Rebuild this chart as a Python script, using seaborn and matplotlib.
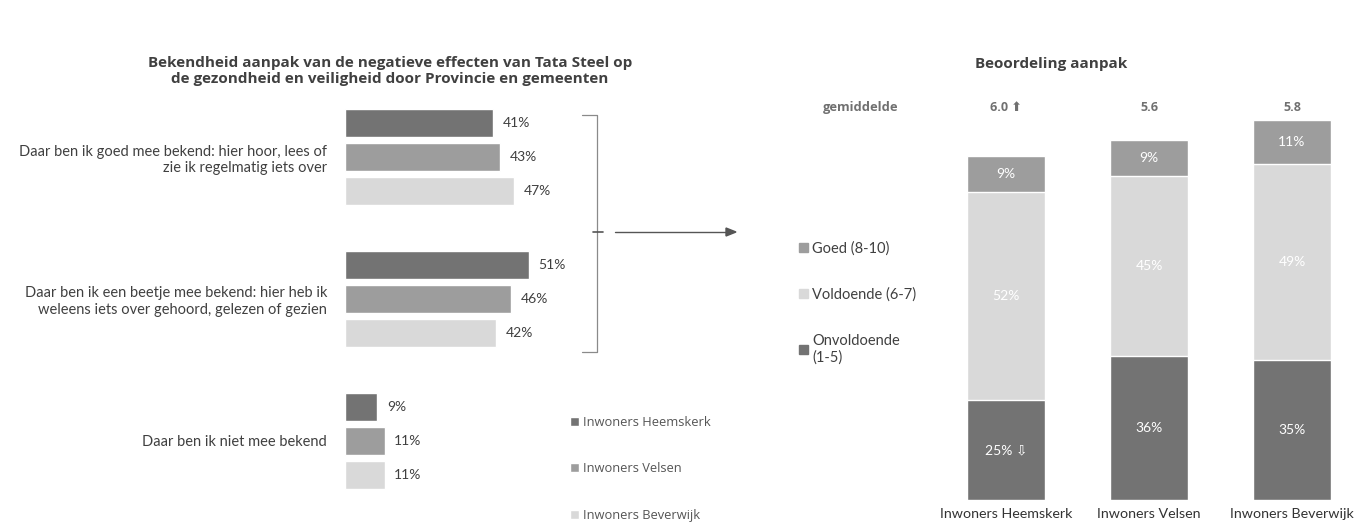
import pandas as pd
import matplotlib
matplotlib.use("Agg")
import matplotlib.pyplot as plt
import seaborn as sns
import numpy as np
from matplotlib.patches import Patch

# --- data -------------------------------------------------------------
categories = [
    "Daar ben ik goed mee bekend: hier hoor, lees of\nzie ik regelmatig iets over",
    "Daar ben ik een beetje mee bekend: hier heb ik\nweleens iets over gehoord, gelezen of gezien",
    "Daar ben ik niet mee bekend",
]
gemeenten = ["Inwoners Heemskerk", "Inwoners Velsen", "Inwoners Beverwijk"]
heemskerk = [41, 51, 9]
velsen = [43, 46, 11]
beverwijk = [47, 42, 11]

oordeel_labels = ["Goed (8-10)", "Voldoende (6-7)", "Onvoldoende\n(1-5)"]
onvoldoende = [25, 36, 35]
voldoende = [52, 45, 49]
goed = [9, 9, 11]
gemiddelde = ["6.0 \u2b06", "5.6", "5.8"]
onv_suffix = [" \u21e9", "", ""]

dark, mid, light = "#737373", "#9d9d9d", "#d9d9d9"
text_col = "#404040"
title_font = ["Open Sans", "DejaVu Sans"]

sns.set_theme(style="white")
plt.rcParams["font.family"] = ["Lato", "DejaVu Sans"]

fig = plt.figure(figsize=(13.7, 5.28), dpi=100)

# --- left: bekendheid ---------------------------------------------------
left_df = pd.DataFrame({
    "categorie": categories * 3,
    "gemeente": [g for g in gemeenten for _ in categories],
    "pct": heemskerk + velsen + beverwijk,
})
ax1 = fig.add_axes([345 / 1370, 1 - 512 / 528, 270 / 1370, 426 / 528])
sns.barplot(data=left_df, y="categorie", x="pct", hue="gemeente", orient="h",
            palette=[dark, mid, light], saturation=1, width=0.72, gap=0.18,
            ax=ax1)
for cont in ax1.containers:
    ax1.bar_label(cont, fmt="%d%%", padding=7, fontsize=10, color=text_col)
ax1.set_xlim(0, 75)
ax1.set_ylim(2.5, -0.5)
ax1.set_xlabel("")
ax1.set_ylabel("")
ax1.set_xticks([])
ax1.tick_params(axis="y", length=0, pad=13, labelsize=10.5, labelcolor=text_col)
sns.despine(ax=ax1, left=True, bottom=True)
sns.move_legend(ax1, loc="upper left", bbox_to_anchor=(558 / 1370, 1 - 404 / 528),
                bbox_transform=fig.transFigure, frameon=False, title=None,
                prop={"family": title_font, "size": 9.3}, labelspacing=2.6,
                handlelength=0.7, handleheight=0.7, handletextpad=0.3,
                labelcolor="#555555")

fig.text(390 / 1370, 1 - 71 / 528,
         "Bekendheid aanpak van de negatieve effecten van Tata Steel op\n"
         "de gezondheid en veiligheid door Provincie en gemeenten",
         ha="center", va="center", fontsize=11, fontweight="bold",
         family=title_font, color=text_col, linespacing=1.1)

# bracket + arrow
bx = [582 / 1370, 597 / 1370, 597 / 1370, 582 / 1370]
by = [1 - 115 / 528, 1 - 115 / 528, 1 - 352 / 528, 1 - 352 / 528]
fig.add_artist(plt.Line2D(bx, by, color="#8a8a8a", lw=0.9))
fig.add_artist(plt.Line2D([593 / 1370, 603 / 1370], [1 - 232 / 528] * 2,
                          color="#555555", lw=1.2))
fig.add_artist(plt.Line2D([615 / 1370, 728 / 1370], [1 - 232 / 528] * 2,
                          color="#555555", lw=1.0))
fig.patches.append(matplotlib.patches.FancyArrow(
    726 / 1370, 1 - 232 / 528, 10 / 1370, 0, width=0, head_width=8 / 528,
    head_length=10 / 1370, length_includes_head=True, color="#555555",
    transform=fig.transFigure, figure=fig))

# --- right: beoordeling -------------------------------------------------
right_df = pd.DataFrame({
    "gemeente": gemeenten,
    "onv": onvoldoende,
    "vold": voldoende,
    "goed": goed,
})
right_df["stack_mid"] = right_df["onv"] + right_df["vold"]
right_df["stack_top"] = right_df["stack_mid"] + right_df["goed"]

ax2 = fig.add_axes([934.5 / 1370, 1 - 500 / 528, 429 / 1370, 400 / 528])
for col, c in [("stack_top", mid), ("stack_mid", light), ("onv", dark)]:
    sns.barplot(data=right_df, x="gemeente", y=col, color=c, saturation=1,
                width=0.545, ax=ax2)
ax2.set_ylim(0, 100)
ax2.set_xlim(-0.5, 2.5)
ax2.set_xlabel("")
ax2.set_ylabel("")
ax2.set_yticks([])
ax2.tick_params(axis="x", length=0, pad=6, labelsize=10.3, labelcolor="#333333")
sns.despine(ax=ax2, left=True, bottom=True)

for i in range(3):
    ax2.text(i, onvoldoende[i] / 2, f"{onvoldoende[i]}%{onv_suffix[i]}",
             ha="center", va="center", color="white", fontsize=10)
    ax2.text(i, onvoldoende[i] + voldoende[i] / 2, f"{voldoende[i]}%",
             ha="center", va="center", color="white", fontsize=10)
    ax2.text(i, onvoldoende[i] + voldoende[i] + goed[i] / 2, f"{goed[i]}%",
             ha="center", va="center", color="white", fontsize=10)
    ax2.text(i, 98.2, gemiddelde[i], ha="center", va="center",
             color="#707070", fontsize=9, fontweight="bold", family=title_font,
             clip_on=False)
ax2.text(-1.02, 98.2, "gemiddelde", ha="center", va="center", color="#707070",
         fontsize=9.3, fontweight="bold", family=title_font, clip_on=False)

fig.text(1051 / 1370, 1 - 64 / 528, "Beoordeling aanpak", ha="center",
         va="center", fontsize=11, fontweight="bold", family=title_font,
         color=text_col)

handles = [Patch(color=mid), Patch(color=light), Patch(color=dark)]
fig.legend(handles, oordeel_labels, loc="upper left",
           bbox_to_anchor=(786 / 1370, 1 - 228 / 528), frameon=False,
           fontsize=10.5, labelspacing=2.2, handlelength=0.6, handleheight=0.6,
           handletextpad=0.3, labelcolor=text_col)

fig.savefig("out.png", dpi=100, facecolor="white")
